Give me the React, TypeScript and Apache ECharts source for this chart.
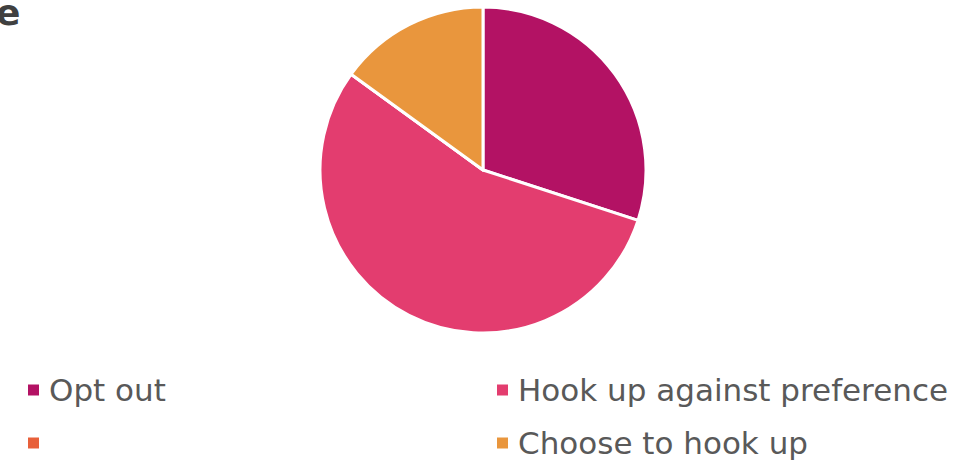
import React, { useEffect, useRef } from "react";
import * as echarts from "echarts";

const categories = ["Opt out", "Hook up against preference", " ", "Choose to hook up"];
const values = [30, 55, 0, 15];
const colors = ["#B31264", "#E33D6F", "#E8603A", "#E9963D"];
// legend grid: [name, column, row]
const legendCells: [string, number, number][] = [
  ["Opt out", 0, 0],
  ["Hook up against preference", 1, 0],
  [" ", 0, 1],
  ["Choose to hook up", 1, 1],
];

export default function App() {
  const ref = useRef<HTMLDivElement>(null);
  useEffect(() => {
    const chart = echarts.init(ref.current!, null, { renderer: "svg" });
    const textStyle = {
      fontFamily: "DejaVu Sans",
      fontSize: 31,
      color: "#595959",
      lineHeight: 36,
      padding: [0, 0, 0, 4],
    };
    const colLeft = [26, 495];
    const rowTop = [372, 425];
    chart.setOption({
      animation: false,
      color: colors,
      graphic: [
        {
          type: "text",
          left: -4,
          top: -6,
          style: {
            text: "e",
            fontFamily: "DejaVu Sans",
            fontWeight: "bold",
            fontSize: 36,
            fill: "#404040",
          },
        },
      ],
      legend: legendCells.map(([name, c, r]) => ({
        orient: "horizontal",
        left: colLeft[c],
        top: rowTop[r],
        padding: 0,
        icon: "rect",
        itemWidth: 13,
        itemHeight: 13,
        textStyle,
        selectedMode: false,
        data: [name],
      })),
      series: [
        {
          type: "pie",
          center: [483, 170],
          radius: [0, 163],
          startAngle: 90,
          clockwise: true,
          label: { show: false },
          labelLine: { show: false },
          itemStyle: { borderColor: "#ffffff", borderWidth: 3 },
          emphasis: { disabled: true },
          data: categories.map((name, i) => ({ name, value: values[i] })),
        },
      ],
    });
    return () => chart.dispose();
  }, []);
  return <div ref={ref} style={{ width: 955, height: 460, position: "absolute", left: 0, top: 0 }} />;
}
